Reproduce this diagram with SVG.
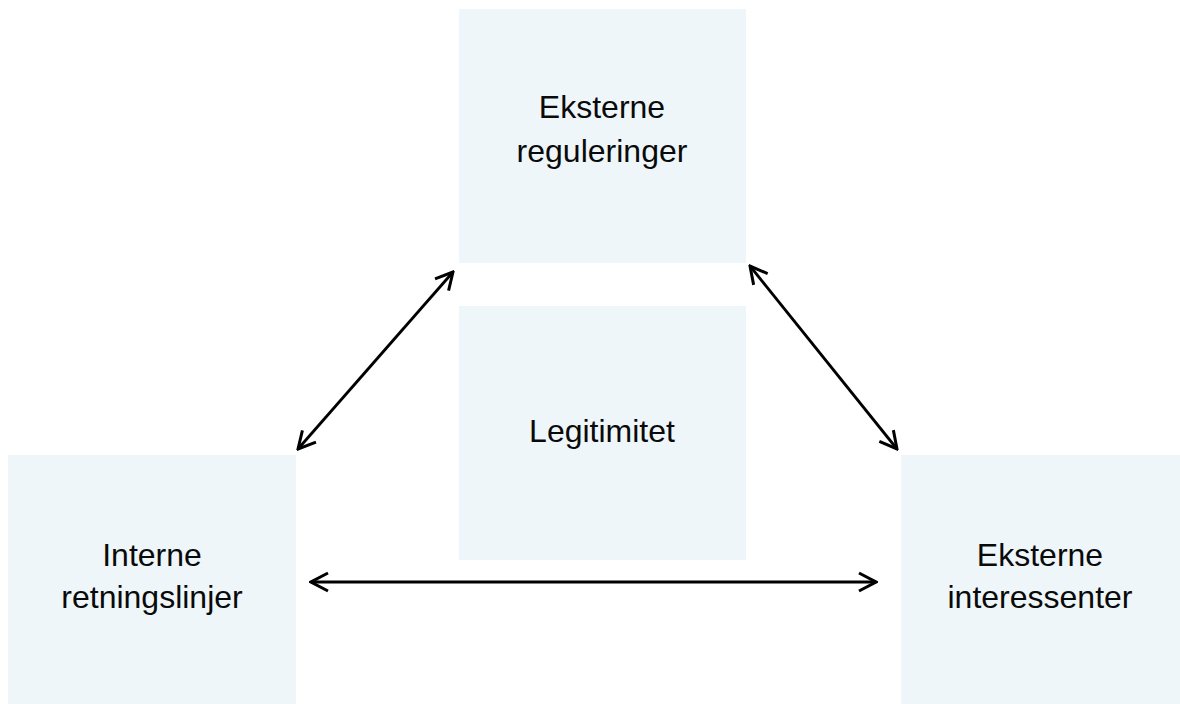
<svg xmlns="http://www.w3.org/2000/svg" width="1180" height="704" viewBox="0 0 1180 704">
<defs>
<style>
.box{fill:#EEF6FA;}
.lbl{font-family:"Liberation Sans",Arial,sans-serif;font-size:32px;fill:#0a0a0a;text-anchor:middle;}
.con{stroke:#000;stroke-width:2.8;fill:none;marker-start:url(#ah);marker-end:url(#ah);}
</style>
<marker id="ah" viewBox="0 0 24 24" refX="22" refY="12" markerWidth="24" markerHeight="24" markerUnits="userSpaceOnUse" orient="auto-start-reverse">
<path d="M5,3 L22,12 L5,21" fill="none" stroke="#000" stroke-width="3" stroke-linejoin="miter"/>
</marker>
</defs>
<rect width="1180" height="704" fill="#fff"/>
<g id="eksterne-reguleringer">
<rect class="box" x="459" y="9" width="287" height="254"/>
<text class="lbl" x="602" y="118">Eksterne</text>
<text class="lbl" x="602" y="162">reguleringer</text>
</g>
<g id="legitimitet">
<rect class="box" x="459" y="306" width="287" height="254"/>
<text class="lbl" x="602" y="442">Legitimitet</text>
</g>
<g id="interne-retningslinjer">
<rect class="box" x="8" y="455" width="288" height="249"/>
<text class="lbl" x="152" y="566">Interne</text>
<text class="lbl" x="152" y="608">retningslinjer</text>
</g>
<g id="eksterne-interessenter">
<rect class="box" x="901" y="455" width="279" height="249"/>
<text class="lbl" x="1040" y="566">Eksterne</text>
<text class="lbl" x="1040" y="608">interessenter</text>
</g>
<g id="connectors">
<line class="con" x1="298" y1="449" x2="453" y2="272"/>
<line class="con" x1="750" y1="266" x2="897" y2="449"/>
<line class="con" x1="311" y1="582" x2="876" y2="582"/>
</g>
</svg>
